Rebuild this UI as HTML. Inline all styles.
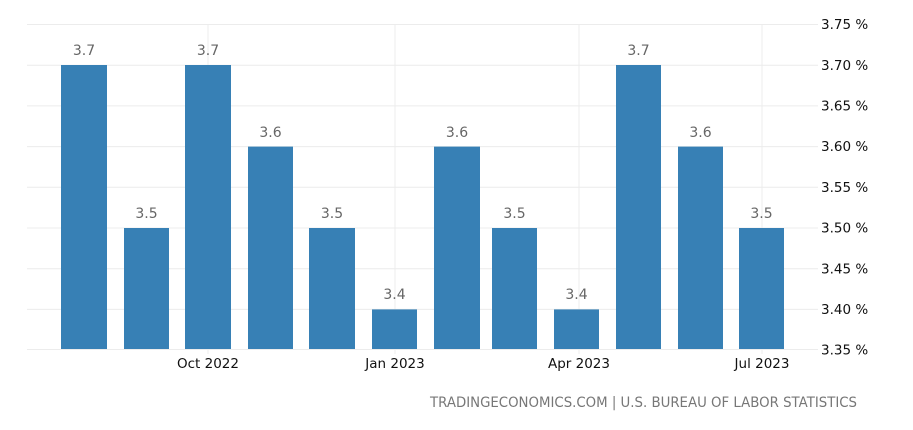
<!DOCTYPE html>
<html><head><style>
body{margin:0;background:#fff;}
svg text{font-family:"DejaVu Sans","Liberation Sans",sans-serif;}
</style></head><body>
<svg width="913" height="425" xmlns="http://www.w3.org/2000/svg">
<g stroke="#ececec" stroke-width="1">
<line x1="27" y1="24.5" x2="818" y2="24.5"/>
<line x1="27" y1="65.2" x2="818" y2="65.2"/>
<line x1="27" y1="105.9" x2="818" y2="105.9"/>
<line x1="27" y1="146.6" x2="818" y2="146.6"/>
<line x1="27" y1="187.3" x2="818" y2="187.3"/>
<line x1="27" y1="228" x2="818" y2="228"/>
<line x1="27" y1="268.7" x2="818" y2="268.7"/>
<line x1="27" y1="309.4" x2="818" y2="309.4"/>
<line x1="27" y1="349.5" x2="818" y2="349.5"/>
<line x1="208" y1="24" x2="208" y2="354"/>
<line x1="395" y1="24" x2="395" y2="354"/>
<line x1="579" y1="24" x2="579" y2="354"/>
<line x1="762" y1="24" x2="762" y2="354"/>
</g>
<g fill="#3780b5">
<rect x="61" y="65" width="46" height="284"/>
<rect x="124" y="228" width="45" height="121"/>
<rect x="185" y="65" width="46" height="284"/>
<rect x="248" y="146.6" width="45" height="202.4"/>
<rect x="309" y="228" width="46" height="121"/>
<rect x="372" y="309.4" width="45" height="39.6"/>
<rect x="434" y="146.6" width="46" height="202.4"/>
<rect x="492" y="228" width="45" height="121"/>
<rect x="554" y="309.4" width="45" height="39.6"/>
<rect x="616" y="65" width="45" height="284"/>
<rect x="678" y="146.6" width="45" height="202.4"/>
<rect x="739" y="228" width="45" height="121"/>
</g>
<g fill="#666" font-size="14" text-anchor="middle">
<text x="84" y="55">3.7</text>
<text x="146.5" y="218">3.5</text>
<text x="208" y="55">3.7</text>
<text x="270.5" y="137">3.6</text>
<text x="332" y="218">3.5</text>
<text x="394.5" y="299">3.4</text>
<text x="457" y="137">3.6</text>
<text x="514.5" y="218">3.5</text>
<text x="576.5" y="299">3.4</text>
<text x="638.5" y="55">3.7</text>
<text x="700.5" y="137">3.6</text>
<text x="761.5" y="218">3.5</text>
</g>
<g fill="#111" font-size="13.5">
<text x="821" y="29">3.75 %</text>
<text x="821" y="70">3.70 %</text>
<text x="821" y="110.5">3.65 %</text>
<text x="821" y="151">3.60 %</text>
<text x="821" y="192">3.55 %</text>
<text x="821" y="232.5">3.50 %</text>
<text x="821" y="273.5">3.45 %</text>
<text x="821" y="314">3.40 %</text>
<text x="821" y="354.5">3.35 %</text>
</g>
<g fill="#111" font-size="13.5" text-anchor="middle">
<text x="208" y="368">Oct 2022</text>
<text x="395" y="368">Jan 2023</text>
<text x="579" y="368">Apr 2023</text>
<text x="762" y="368">Jul 2023</text>
</g>
<text x="430" y="407" fill="#777" font-size="14" textLength="427" lengthAdjust="spacingAndGlyphs">TRADINGECONOMICS.COM | U.S. BUREAU OF LABOR STATISTICS</text>
</svg>
</body></html>
